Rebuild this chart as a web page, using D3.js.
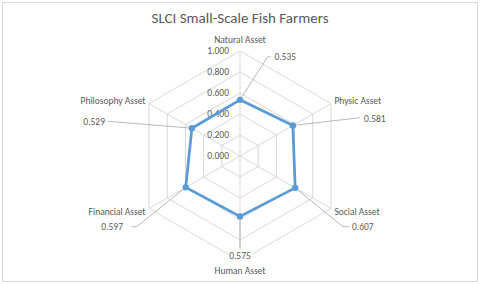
<!DOCTYPE html>
<html>
<head>
<meta charset="utf-8">
<script src="https://cdn.jsdelivr.net/npm/d3@7"></script>
<style>
  html, body { margin: 0; padding: 0; background: #fff; }
  svg { display: block; }
  text { font-family: Carlito, Calibri, Lato, "Open Sans", sans-serif; fill: #595959; }
</style>
</head>
<body>
<svg id="chart" width="480" height="284"></svg>
<script>
// ---- data ----
const title = "SLCI Small-Scale Fish Farmers";
const categories = ["Natural Asset", "Physic Asset", "Social Asset", "Human Asset", "Financial Asset", "Philosophy Asset"];
const values = [0.535, 0.581, 0.607, 0.575, 0.597, 0.529];
const ticks = [0, 0.2, 0.4, 0.6, 0.8, 1.0];

// ---- layout ----
const W = 480, H = 284;
const cx = 240, cy = 156, R = 105;
const svg = d3.select("#chart");

svg.append("rect").attr("x", 2.5).attr("y", 2.5).attr("width", 475).attr("height", 279)
  .attr("fill", "#fff").attr("stroke", "#d9d9d9").attr("stroke-width", 1);

const r = d3.scaleLinear().domain([0, 1]).range([0, R]);
const angle = d3.scalePoint().domain(categories).range([0, 2 * Math.PI * (categories.length - 1) / categories.length]);
const pt = (cat, v) => [cx + r(v) * Math.sin(angle(cat)), cy - r(v) * Math.cos(angle(cat))];

const g = svg.append("g");
// grid rings
ticks.filter(t => t > 0).forEach(t => {
  g.append("polygon")
    .attr("points", categories.map(c => pt(c, t).join(",")).join(" "))
    .attr("fill", "none").attr("stroke", "#d9d9d9").attr("stroke-width", 1);
});
// spokes
categories.forEach(c => {
  const [x, y] = pt(c, 1);
  g.append("line").attr("x1", cx).attr("y1", cy).attr("x2", x).attr("y2", y)
    .attr("stroke", "#d9d9d9").attr("stroke-width", 1);
});

// tick labels
const fmt = d3.format(".3f");
ticks.forEach(t => {
  g.append("text").attr("x", cx - 11).attr("y", cy - r(t))
    .attr("text-anchor", "end").attr("dominant-baseline", "central")
    .attr("font-size", 9.5).text(fmt(t));
});

// category labels
categories.forEach(c => {
  const a = angle(c);
  const [x, y] = pt(c, 1);
  const s = Math.sin(a), co = Math.cos(a);
  let tx, ty, anchor;
  if (Math.abs(s) < 0.01) {
    tx = cx; ty = co > 0 ? cy - R - 11 : cy + R + 10; anchor = "middle";
  } else {
    tx = x + (s > 0 ? 3.5 : -3.5); ty = y - (co > 0 ? 2.5 : -3); anchor = s > 0 ? "start" : "end";
  }
  g.append("text").attr("x", tx).attr("y", ty).attr("text-anchor", anchor)
    .attr("dominant-baseline", "central").attr("font-size", 9.5).text(c);
});

// leader lines and data labels (label placement offsets relative to chart centre)
const leaderEnds = {
  "Natural Asset":    { path: [[27.7, -99.3], [30.5, -99.3]], lx: 34.5, ly: -99.3, anchor: "start" },
  "Physic Asset":     { path: [[120, -38.3]], lx: 124, ly: -37, anchor: "start" },
  "Social Asset":     { path: [[103, 70.7], [109, 70.7]], lx: 112, ly: 71, anchor: "start" },
  "Human Asset":      { path: [[0, 92]], lx: 0, ly: 100, anchor: "middle" },
  "Financial Asset":  { path: [[-103.3, 70.7], [-108.5, 70.7]], lx: -117, ly: 71, anchor: "end" },
  "Philosophy Asset": { path: [[-131.7, -34.7]], lx: -135, ly: -34.5, anchor: "end" }
};
categories.forEach((c, i) => {
  const p0 = pt(c, values[i]);
  const le = leaderEnds[c];
  const pts = [p0].concat(le.path.map(([dx, dy]) => [cx + dx, cy + dy]));
  g.append("path").attr("d", d3.line()(pts)).attr("fill", "none")
    .attr("stroke", "#a6a6a6").attr("stroke-width", 0.8);
});

// series
const lineGen = d3.line().curve(d3.curveLinearClosed);
g.append("path")
  .attr("d", lineGen(categories.map((c, i) => pt(c, values[i]))))
  .attr("fill", "none").attr("stroke", "#5b9bd5").attr("stroke-width", 2.75)
  .attr("stroke-linejoin", "round");
categories.forEach((c, i) => {
  const [x, y] = pt(c, values[i]);
  g.append("circle").attr("cx", x).attr("cy", y).attr("r", 3.2).attr("fill", "#5b9bd5");
});

// data labels
categories.forEach((c, i) => {
  const le = leaderEnds[c];
  const t = g.append("text").attr("x", cx + le.lx).attr("y", cy + le.ly)
    .attr("text-anchor", le.anchor).attr("dominant-baseline", "central")
    .attr("font-size", 9.5).text(fmt(values[i]));
  const bb = t.node().getBBox();
  g.insert("rect", () => t.node()).attr("x", bb.x - 1).attr("y", bb.y).attr("width", bb.width + 2)
    .attr("height", bb.height).attr("fill", "#fff");
});

// title
const tt = svg.append("text").attr("x", cx).attr("y", 18).attr("text-anchor", "middle")
  .attr("dominant-baseline", "central").attr("font-size", 15).text(title);
</script>
</body>
</html>
